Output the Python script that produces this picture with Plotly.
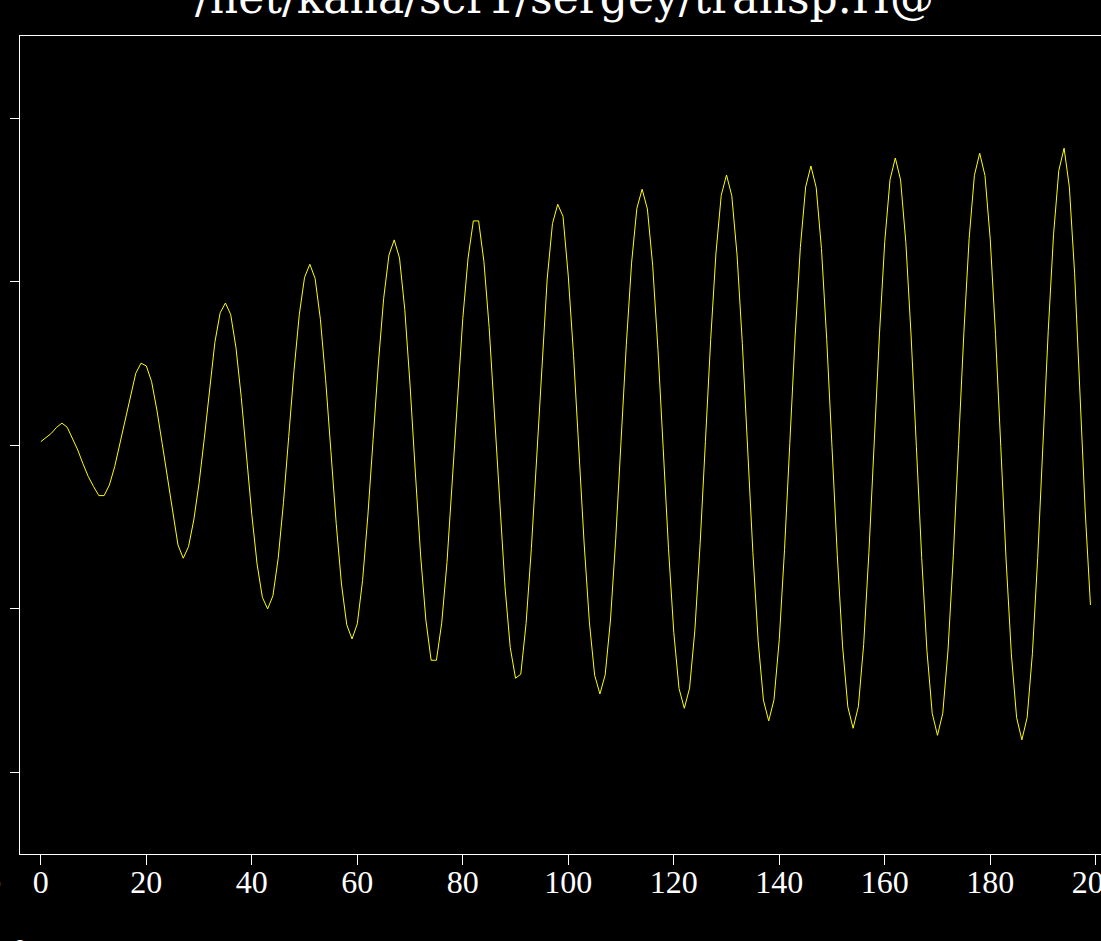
import plotly.graph_objects as go

# ---- data ----
sample_index = list(range(200))

trace_values = [
    0.022, 0.047, 0.073, 0.110, 0.135, 0.110, 0.043, -0.029, -0.114, -0.192,
    -0.253, -0.308, -0.308, -0.243, -0.131, 0.012, 0.155, 0.308, 0.440, 0.502,
    0.485, 0.389, 0.216, 0.012, -0.192, -0.416, -0.610, -0.691, -0.620, -0.457,
    -0.232, 0.043, 0.358, 0.630, 0.810, 0.870, 0.799, 0.596, 0.293, -0.066,
    -0.424, -0.727, -0.930, -1.001, -0.921, -0.692, -0.351, 0.053, 0.457, 0.798,
    1.027, 1.107, 1.020, 0.771, 0.400, -0.039, -0.478, -0.849, -1.098, -1.185,
    -1.092, -0.827, -0.432, 0.036, 0.503, 0.898, 1.163, 1.256, 1.145, 0.831,
    0.368, -0.164, -0.672, -1.069, -1.315, -1.315, -1.088, -0.718, -0.234, 0.291,
    0.775, 1.145, 1.372, 1.372, 1.125, 0.720, 0.197, -0.361, -0.866, -1.238,
    -1.425, -1.400, -1.090, -0.631, -0.064, 0.517, 1.017, 1.355, 1.474, 1.400,
    1.035, 0.550, -0.024, -0.597, -1.082, -1.407, -1.521, -1.404, -1.069, -0.569,
    0.023, 0.614, 1.114, 1.449, 1.566, 1.445, 1.101, 0.587, -0.022, -0.630,
    -1.144, -1.488, -1.609, -1.485, -1.131, -0.603, 0.022, 0.647, 1.175, 1.529,
    1.653, 1.526, 1.164, 0.623, -0.017, -0.656, -1.197, -1.559, -1.686, -1.557,
    -1.189, -0.639, 0.011, 0.661, 1.211, 1.579, 1.708, 1.577, 1.204, 0.647,
    -0.012, -0.670, -1.227, -1.600, -1.731, -1.598, -1.220, -0.655, 0.013, 0.681,
    1.246, 1.624, 1.757, 1.623, 1.240, 0.668, -0.009, -0.685, -1.257, -1.640,
    -1.774, -1.639, -1.252, -0.676, 0.006, 0.688, 1.264, 1.651, 1.786, 1.650,
    1.260, 0.679, -0.008, -0.695, -1.276, -1.666, -1.802, -1.665, -1.272, -0.686,
    0.008, 0.701, 1.287, 1.680, 1.817, 1.580, 1.050, 0.330, -0.400, -0.977,
]

x_tick_values = [0, 20, 40, 60, 80, 100, 120, 140, 160, 180, 200]
x_tick_labels = [str(v) for v in x_tick_values]
y_tick_values = [-2, -1, 0, 1, 2]

title_text = "/net/kana/scr1/sergey/transp.H@"

# ---- figure ----
fig = go.Figure()
fig.add_trace(go.Scatter(
    x=sample_index, y=trace_values, mode="lines",
    line=dict(color="#ffff00", width=1),
    hoverinfo="skip", showlegend=False,
))

fig.update_layout(
    width=1101, height=941,
    margin=dict(l=20, r=0, t=36, b=87, pad=0, autoexpand=False),
    paper_bgcolor="black", plot_bgcolor="black",
    showlegend=False,
    xaxis=dict(
        range=[-3.95, 201.0], automargin=False,
        tickmode="array", tickvals=x_tick_values, ticktext=x_tick_labels,
        ticks="outside", ticklen=10, tickwidth=1, tickcolor="white",
        ticklabelstandoff=-10, ticklabeloverflow="allow",
        showline=True, linecolor="white", linewidth=1, mirror=True,
        showgrid=False, zeroline=False,
        tickfont=dict(family="Liberation Serif", size=32, color="white"),
    ),
    yaxis=dict(
        range=[-2.5, 2.503], automargin=False,
        tickmode="array", tickvals=y_tick_values,
        ticks="outside", ticklen=9, tickwidth=1, tickcolor="white",
        showticklabels=False,
        showline=True, linecolor="white", linewidth=1, mirror=False,
        showgrid=False, zeroline=False,
    ),
    annotations=[
        dict(text=title_text, xref="paper", yref="paper", x=0.504, y=1.0134,
             xanchor="center", yanchor="bottom", showarrow=False,
             font=dict(family="DejaVu Serif", size=44, color="white")),
        dict(text="0", xref="paper", yref="paper", x=0.0, y=-0.093,
             xanchor="center", yanchor="top", showarrow=False,
             font=dict(family="Liberation Serif", size=32, color="white")),
        dict(text="5", xref="paper", yref="paper", x=-0.024, y=-0.032,
             xanchor="center", yanchor="middle", showarrow=False,
             font=dict(family="Liberation Serif", size=28, color="white")),
    ],
)

fig.write_html(
    "out.html",
    config={"displayModeBar": False},
    post_script="document.body.style.margin='0';document.documentElement.style.overflow='hidden';document.body.style.overflow='hidden';",
)
